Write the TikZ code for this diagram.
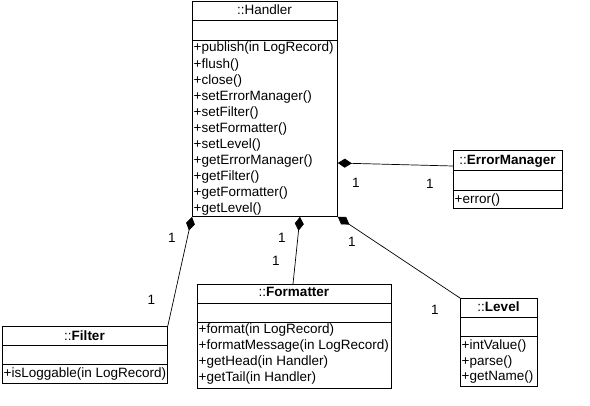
\documentclass[tikz,border=0pt]{standalone}
\usepackage{fontspec}
\setmainfont{Liberation Sans}
\usetikzlibrary{arrows.meta}
\begin{document}
\begin{tikzpicture}[x=1pt,y=-1pt,
  every node/.style={font=\fontsize{13.5}{16}\selectfont, inner sep=0pt},
  classbox/.style={draw, line width=0.8pt, anchor=north west},
  sepline/.style={line width=0.8pt},
  meth/.style={anchor=base west},
  ttl/.style={anchor=base},
  mult/.style={anchor=center},
  comp/.style={line width=0.7pt, {Diamond[length=14pt,width=9pt]}-}]
\useasboundingbox (0,0) rectangle (590,406);
% Handler
\node[classbox, minimum width=145pt, minimum height=215pt] (handler) at (192,1) {};
\draw[sepline] ([yshift=-19pt]handler.north west) -- ([yshift=-19pt]handler.north east);
\draw[sepline] ([yshift=-39pt]handler.north west) -- ([yshift=-39pt]handler.north east);
\node[ttl] (handler-t) at (264.5,15) {::Handler};
\foreach \t [count=\i] in {+publish(in LogRecord),+flush(),+close(),+setErrorManager(),+setFilter(),+setFormatter(),+setLevel(),+getErrorManager(),+getFilter(),+getFormatter(),+getLevel()}
  \node[meth] (handler-m\i) at (193.5,{52+16.1*(\i-1)}) {\t};
% ErrorManager
\node[classbox, minimum width=109pt, minimum height=58pt] (errm) at (453,150) {};
\draw[sepline] ([yshift=-20.5pt]errm.north west) -- ([yshift=-20.5pt]errm.north east);
\draw[sepline] ([yshift=-40pt]errm.north west) -- ([yshift=-40pt]errm.north east);
\node[ttl] (errm-t) at (507.5,165) {::\textbf{ErrorManager}};
\node[meth] (errm-m1) at (454.5,204) {+error()};
% Filter
\node[classbox, minimum width=165pt, minimum height=57pt] (filter) at (2,326) {};
\draw[sepline] ([yshift=-19pt]filter.north west) -- ([yshift=-19pt]filter.north east);
\draw[sepline] ([yshift=-38pt]filter.north west) -- ([yshift=-38pt]filter.north east);
\node[ttl] (filter-t) at (84.5,341) {::\textbf{Filter}};
\node[meth] (filter-m1) at (3.5,378) {+isLoggable(in LogRecord)};
% Formatter
\node[classbox, minimum width=194pt, minimum height=104pt] (fmt) at (197,284) {};
\draw[sepline] ([yshift=-19pt]fmt.north west) -- ([yshift=-19pt]fmt.north east);
\draw[sepline] ([yshift=-38pt]fmt.north west) -- ([yshift=-38pt]fmt.north east);
\node[ttl] (fmt-t) at (294,297) {::\textbf{Formatter}};
\foreach \t [count=\i] in {+format(in LogRecord),+formatMessage(in LogRecord),+getHead(in Handler),+getTail(in Handler)}
  \node[meth] (fmt-m\i) at (198.5,{334+16*(\i-1)}) {\t};
% Level
\node[classbox, minimum width=77pt, minimum height=88pt] (level) at (460,298) {};
\draw[sepline] ([yshift=-19pt]level.north west) -- ([yshift=-19pt]level.north east);
\draw[sepline] ([yshift=-38pt]level.north west) -- ([yshift=-38pt]level.north east);
\node[ttl] (level-t) at (498.5,312) {::\textbf{Level}};
\foreach \t [count=\i] in {+intValue(),+parse(),+getName()}
  \node[meth] (level-m\i) at (461.5,{350+15.5*(\i-1)}) {\t};
% connectors
\draw[comp] ([yshift=-162pt]handler.north east) -- ([yshift=-16pt]errm.north west);
\draw[comp] (handler.south west) -- (filter.north east);
\draw[comp] ([xshift=108pt]handler.south west) -- ([xshift=96pt]fmt.north west);
\draw[comp] (handler.south east) -- (level.north west);
% multiplicities
\node[mult] (m1) at (356,182.5) {1};
\node[mult] (m2) at (430,184) {1};
\node[mult] (m3) at (172,238) {1};
\node[mult] (m4) at (151.5,300) {1};
\node[mult] (m5) at (282,238) {1};
\node[mult] (m6) at (276,260.5) {1};
\node[mult] (m7) at (352,242) {1};
\node[mult] (m8) at (435,310) {1};
\end{tikzpicture}
\end{document}
